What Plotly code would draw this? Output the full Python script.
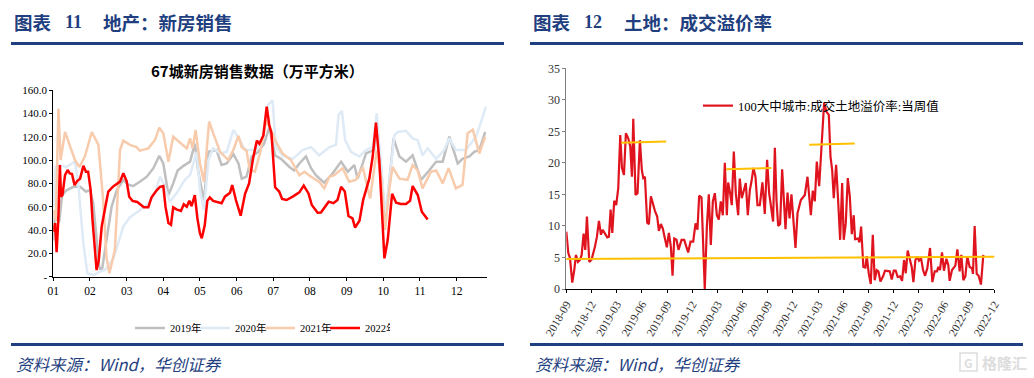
import plotly.graph_objects as go

W, H = 1034, 378
SERIF = "Liberation Serif, Noto Sans CJK SC"
CJK = "Noto Sans CJK SC, Liberation Serif"
NAVY = "#1F3F80"

month_ticks = [1,2,3,4,5,6,7,8,9,10,11,12]
month_labels = ["01","02","03","04","05","06","07","08","09","10","11","12"]
sales_ticks = [0,20,40,60,80,100,120,140,160]
sales_labels = ["-","20.0","40.0","60.0","80.0","100.0","120.0","140.0","160.0"]

m2019 = [1,1.05,1.11,1.16,1.24,1.36,1.55,1.73,1.89,2,2.09,2.18,2.25,2.32,2.45,2.59,2.73,2.91,3.05,3.18,3.36,3.55,3.73,3.89,4,4.14,4.27,4.39,4.55,4.73,4.86,4.95,5.05,5.11,5.23,5.45,5.59,5.73,5.91,6.05,6.14,6.27,6.41,6.59,6.75,6.89,7.05,7.21,7.44,7.57,7.71,7.89,8.03,8.16,8.39,8.62,8.85,9.03,9.21,9.3,9.53,9.75,9.8,9.94,10.05,10.16,10.28,10.44,10.62,10.8,11.03,11.25,11.44,11.62,11.8,12.03,12.16,12.35,12.48,12.62,12.78]
v2019 = [31,57,48.5,47,70,74,77,77,73,74,63,34,8.6,4.3,31,60,74,83,78.6,77.7,81.4,85.7,93,103.7,97,70,80,91,95,98.6,114,91,74,65.7,107,108.6,95.7,97,105,97,84,85.7,103,107,114,128,104,101,94,91,97,103,93,87,80.6,88.6,98.6,90,95.7,84,105.7,108.6,130,94,45.7,80,118.6,103,98.6,104,83,91,98.6,98.6,120,97,101,103,107,108.6,124]

m2020 = [1,1.05,1.14,1.36,1.59,1.68,1.82,1.93,2.09,2.27,2.41,2.64,2.91,3.09,3.36,3.59,3.77,3.91,4,4.18,4.36,4.59,4.73,4.91,5,5.11,5.23,5.36,5.55,5.73,5.91,6.09,6.23,6.45,6.53,6.71,6.85,6.98,7.07,7.25,7.53,7.8,8.03,8.25,8.53,8.71,8.78,8.87,8.96,9.12,9.35,9.53,9.71,9.82,9.94,10.05,10.16,10.3,10.39,10.62,10.8,10.94,11.07,11.21,11.44,11.66,11.8,11.98,12.25,12.53,12.71,12.8]
v2020 = [60,94,95.7,94,98.6,80,28.6,2.9,1.4,4.3,5.7,15.7,43,51,57,63,71.4,85.7,80,64.3,71.4,83,87,107,74,57,100,110,105.7,107,125.7,117,108.6,108.6,108.6,120,147,151,111,104,101,108.6,111,104,111,113,138.6,142,117,107,103,108.6,111,140,94,54,80,121,124,125,118.6,117,104,110,101,108.6,118.6,108.6,108.6,120,137,145.7]

m2021 = [1,1.07,1.14,1.2,1.32,1.45,1.59,1.71,1.86,2.05,2.23,2.36,2.45,2.53,2.68,2.82,2.91,3.09,3.27,3.36,3.59,3.77,3.89,4,4.14,4.27,4.5,4.64,4.73,4.8,4.88,5,5.11,5.25,5.36,5.55,5.77,5.91,6.05,6.14,6.27,6.36,6.5,6.64,6.8,6.94,7.07,7.25,7.48,7.71,7.85,8.03,8.25,8.39,8.53,8.66,8.89,9.07,9.25,9.44,9.64,9.82,9.94,10.05,10.16,10.25,10.44,10.66,10.8,10.94,11.07,11.3,11.44,11.62,11.78,11.98,12.16,12.3,12.44,12.62,12.78]
v2021 = [57,48.5,144,100,124,113,100,94,103,124,113,65.7,17,2.9,23,108.6,116.6,113,111,108,110,117,127.7,123,98.6,120,114,110,118.6,110,125.7,97,81.4,133,123,107,100,108.6,120.6,111,108,91.4,90,106,134,125.7,115.7,105.7,100,87,90,85.7,81.4,75.7,85.7,87,93,81.4,83,94,67,108,85,40,74,94,84,83,95.7,91,75.7,90,91,80,93,75.7,78.6,123,126,105.7,120]

m2022 = [1,1.05,1.09,1.14,1.18,1.21,1.25,1.32,1.39,1.45,1.51,1.58,1.65,1.73,1.82,1.89,1.95,2.02,2.07,2.14,2.18,2.24,2.32,2.42,2.5,2.62,2.73,2.82,2.91,3,3.07,3.16,3.29,3.38,3.47,3.59,3.68,3.82,3.91,4,4.06,4.14,4.21,4.27,4.36,4.48,4.56,4.64,4.71,4.77,4.86,4.93,5,5.05,5.13,5.2,5.27,5.36,5.5,5.59,5.68,5.82,5.88,5.98,6.11,6.23,6.34,6.44,6.55,6.62,6.73,6.82,6.89,6.95,7.05,7.16,7.24,7.36,7.53,7.71,7.83,7.96,8.05,8.21,8.3,8.51,8.64,8.75,8.85,8.95,9.05,9.16,9.23,9.35,9.45,9.62,9.71,9.8,9.89,9.95,10.03,10.12,10.24,10.35,10.48,10.62,10.73,10.8,10.94,11.05,11.21]
v2022 = [38.6,46,21,51,95.7,68.5,70,87,91.4,88.5,88,78.5,82,84,95,90,90,74,48.5,17,5.7,14,43,60,73,77,79.5,81.5,88.6,82,68.5,65,64,62,59.5,59.5,68,74,77,77.7,60,46,44.5,59.5,57.7,56.3,62,60,65,60.5,70,50,37,33,44,65,68,65,63.4,63,68.6,72,78.6,65.7,52.3,71,80,100,116.6,114,121,145.7,130,123,76.6,73,66.6,65.7,68.6,72.3,78,71.4,61.4,54.9,55,64.3,63,65.7,77,73,52,50,42,48,65.7,84.3,103,132,100,60,15.7,31.4,71,63.4,62.3,62.3,65,77.7,70,55.7,49]

quarter_labels = ["2018-09","2018-12","2019-03","2019-06","2019-09","2019-12","2020-03","2020-06","2020-09","2020-12","2021-03","2021-06","2021-09","2021-12","2022-03","2022-06","2022-09","2022-12"]
quarter_ticks = [0,3,6,9,12,15,18,21,24,27,30,33,36,39,42,45,48,51]
premium_ticks = [0,5,10,15,20,25,30,35]

prem_m = [0,.24,.44,.71,.95,1.15,1.39,1.63,1.83,2.06,2.26,2.46,2.74,3.02,3.41,3.65,3.89,4.13,4.33,4.6,4.88,5.08,5.28,5.48,5.71,5.95,6.19,6.43,6.63,6.87,7.1,7.38,7.62,7.82,7.98,8.25,8.49,8.77,9.0,9.17,9.37,9.64,9.84,10.08,10.36,10.56,10.83,11.03,11.27,11.5,11.75,11.98,12.22,12.46,12.66,12.86,13.13,13.37,13.73,14.05,14.52,14.8,15.12,15.4,15.63,15.83,16.11,16.5,16.75,16.98,17.22,17.46,17.7,17.94,18.17,18.41,18.65,18.89,19.13,19.29,19.52,19.72,19.96,20.2,20.48,20.67,20.91,21.15,21.39,21.63,21.87,22.06,22.3,22.54,22.78,23.06,23.37,23.65,23.93,24.17,24.4,24.64,24.85,25.05,25.25,25.48,25.72,26.12,26.36,26.6,26.83,27.31,27.55,27.95,28.42,28.74,29.14,29.37,29.61,29.85,30.13,30.4,30.72,31,31.28,31.48,31.68,31.87,32.15,32.39,32.63,32.87,33.06,33.3,33.54,33.78,34.02,34.25,34.41,34.77,34.93,35.13,35.4,35.64,35.8,36.04,36.28,36.52,36.75,36.99,37.19,37.43,37.75,37.98,38.54,38.78,39.02,39.25,39.49,39.77,40.01,40.25,40.45,40.68,40.92,41.16,41.36,41.6,41.83,42.03,42.27,42.51,42.75,43.02,43.34,43.62,43.9,44.17,44.33,44.53,44.77,45,45.29,45.52,45.68,45.96,46.36,46.6,46.87,47.07,47.31,47.55,47.79,48.06,48.34,48.46,48.66,48.9,49.13,49.41,49.69]
prem_v = [9.1,5.7,4.9,1.0,3.0,5.4,4.3,4.6,5.4,8.8,6.2,11.5,4.3,4.7,6.7,8.3,10.8,8.6,9.4,8.8,8.2,8.3,12.6,8.9,14.0,13.3,16,24.4,19.2,18.1,24.7,23.9,22.6,17.8,27,14.9,15.2,23.6,18.9,17.6,17.8,10.5,10.3,14.7,13.1,12.4,11.5,9.2,10.3,9.6,8.0,6.6,8.9,6.7,2.1,8,7.8,6.2,7.8,7.8,5.8,7.5,7.5,10.4,9.4,14.8,14.5,0,9.9,15,7.0,13.9,15.2,11.7,11,13.9,11.7,20,11.7,16.9,15.2,13.3,21.8,15.2,11.7,17.5,14.4,15.7,16.8,11.7,15.7,17,19.2,17.8,13.3,13.3,16.9,11.9,20.5,15.2,13.3,10.7,22.4,14,10,10.3,19,9.5,15.3,11.2,15,6.5,12,14.1,14.9,17.8,11.7,15.6,13.9,20.2,16.3,22,29.5,28.1,27.6,21,18.9,14.4,19.7,14.1,7.8,16.8,7.8,10.4,17.6,14.7,8.7,11.7,7.9,8,7.4,9.9,3.5,3.4,5.2,2.5,0.8,8.6,1.4,3.0,2.8,1.2,2,2.9,2.8,1.5,2.9,2.9,1.9,2,1.3,4.6,2.5,6.1,4.9,3.5,1.1,4.6,5.1,4.5,4.9,3.0,2.1,3.3,6.5,1.1,2.8,2.8,3.5,3,5.8,2.9,4.8,3.8,1.3,3,3.7,6.3,2.8,5.4,1.4,2,5.2,3.5,3.3,2.4,10,2.4,2.1,0.7,5.4]

guide_long_x, guide_long_y = [-0.67, 52.4], [4.76, 5.13]
guides_short = [([6.55, 11.9], [23.2, 23.4]), ([19.05, 24.44], [19.0, 19.2]), ([28.94, 34.37], [22.86, 23.07])]

fig = go.Figure()
for name, xs, ys, col, wd in [("2019年", m2019, v2019, "#BFBFBF", 2.5),
                              ("2020年", m2020, v2020, "#DEEAF6", 2.5),
                              ("2021年", m2021, v2021, "#F7CBAC", 2.5),
                              ("2022年", m2022, v2022, "#FF0000", 2.5)]:
    fig.add_trace(go.Scatter(x=xs, y=ys, name=name, mode="lines", xaxis="x", yaxis="y",
                             line=dict(color=col, width=wd), legend="legend", cliponaxis=False))

fig.add_trace(go.Scatter(x=prem_m, y=prem_v, name="100大中城市:成交土地溢价率:当周值", mode="lines",
                         xaxis="x2", yaxis="y2", line=dict(color="#E0141E", width=2.2),
                         legend="legend2", cliponaxis=False))
for gx, gy in [(guide_long_x, guide_long_y)] + guides_short:
    fig.add_trace(go.Scatter(x=gx, y=gy, mode="lines", xaxis="x2", yaxis="y2", showlegend=False,
                             hoverinfo="skip", line=dict(color="#FFC000", width=2), cliponaxis=False))

def px(x): return x / W
def py(y): return 1 - y / H

shapes = []
for x0, x1, y0, y1 in [(11, 504, 42, 45), (530, 1023, 42, 45), (11, 504, 343, 346), (530, 1023, 343, 346)]:
    shapes.append(dict(type="rect", xref="paper", yref="paper", x0=px(x0), x1=px(x1), y0=py(y1), y1=py(y0),
                       fillcolor=NAVY, line=dict(width=0)))
shapes.append(dict(type="rect", xref="paper", yref="paper", x0=px(960), x1=px(977), y0=py(371), y1=py(353),
                   fillcolor="rgba(0,0,0,0)", line=dict(color="#DDDDDD", width=1.5)))

def note(x, y, text, size, color="#000000", family=CJK, anchor="left", **kw):
    return dict(xref="paper", yref="paper", x=px(x), y=py(y), text=text, showarrow=False, xanchor=anchor,
                yanchor="middle", font=dict(size=size, color=color, family=family), **kw)

annotations = [
    note(12, 22, "<b>图表</b>", 18.5, NAVY),
    note(63, 22, "<b>11</b>", 18, NAVY, family=SERIF),
    note(101, 22, "<b>地产\uff1a新房销售</b>", 18.5, NAVY),
    note(531, 22, "<b>图表</b>", 18.5, NAVY),
    note(582, 22, "<b>12</b>", 18, NAVY, family=SERIF),
    note(622, 22, "<b>土地\uff1a成交溢价率</b>", 18.5, NAVY),
    note(14, 364, "<i>资料来源\uff1aWind\uff0c华创证券</i>", 16.5, NAVY),
    note(533, 364, "<i>资料来源\uff1aWind\uff0c华创证券</i>", 16.5, NAVY),
    note(257, 71, "<b>67城新房销售数据\uff08万平方米\uff09</b>", 15, "#000000", anchor="center"),
    note(968.5, 362, "<b>G</b>", 12, "#DDDDDD", anchor="center"),
    note(980, 362, "<b>格隆汇</b>", 15, "#DDDDDD"),
]

fig.update_layout(
    width=W, height=H, margin=dict(l=0, r=0, t=0, b=0, autoexpand=False), paper_bgcolor="white", plot_bgcolor="white",
    font=dict(family=SERIF, color="#000000"),
    shapes=shapes, annotations=annotations,
    xaxis=dict(domain=[px(53.3), px(486.7)], range=[1, 12.82], tickmode="array", tickvals=month_ticks,
               ticktext=month_labels, showgrid=False, zeroline=False, showline=True, linecolor="#000000",
               linewidth=1, ticks="outside", ticklen=3, tickcolor="#000000", tickfont=dict(size=11.5, family=SERIF)),
    yaxis=dict(domain=[py(276.7), py(90)], range=[0, 160], tickmode="array", tickvals=sales_ticks,
               ticktext=sales_labels, showgrid=False, zeroline=False, showline=True, linecolor="#000000",
               linewidth=1, ticks="outside", ticklen=3, tickcolor="#000000", tickfont=dict(size=11, family=SERIF)),
    xaxis2=dict(domain=[px(566.3), px(994.3)], range=[0, 51], anchor="y2", tickmode="array", tickvals=quarter_ticks,
                ticktext=quarter_labels, tickangle=-60, showgrid=False, zeroline=False, showline=True,
                linecolor="#000000", linewidth=1, ticks="outside", ticklen=3, tickcolor="#000000",
                tickfont=dict(size=11.5, family=SERIF, color="#333333")),
    yaxis2=dict(domain=[py(289), py(68.3)], range=[0, 35], anchor="x2", tickmode="array", tickvals=premium_ticks,
                showgrid=False, zeroline=False, showline=True, linecolor="#808080", linewidth=1, ticks="outside",
                ticklen=3, tickcolor="#808080", tickfont=dict(size=12, family=SERIF, color="#333333")),
    legend=dict(orientation="h", x=px(130), y=py(328), xanchor="left", yanchor="middle", bgcolor="rgba(0,0,0,0)",
                font=dict(size=10.5, family=SERIF), entrywidth=20, entrywidthmode="pixels", tracegroupgap=0),
    legend2=dict(x=px(698), y=py(106), xanchor="left", yanchor="middle", bgcolor="rgba(0,0,0,0)",
                 font=dict(size=12.5, family=SERIF)),
    showlegend=True,
)

fig.write_html("out.html", config=dict(displayModeBar=False),
               post_script="document.body.style.margin='0';document.documentElement.style.overflow='hidden';")
